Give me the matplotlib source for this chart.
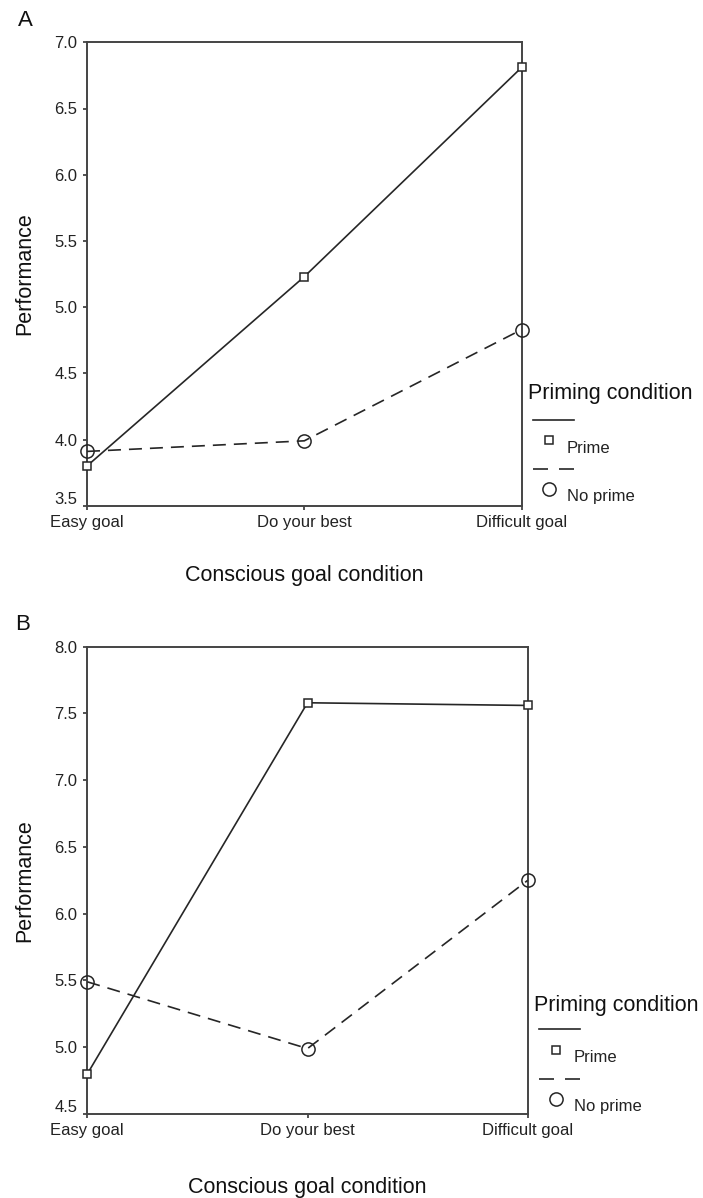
import matplotlib
matplotlib.use("Agg")
import matplotlib.pyplot as plt
import matplotlib.transforms as mtrans
from matplotlib.lines import Line2D

plt.rcParams['font.family'] = ['Liberation Sans', 'DejaVu Sans']

#Data##############################################################
goals = ["Easy goal", "Do your best", "Difficult goal"]
prime_A = [3.80, 5.23, 6.81]
noprime_A = [3.91, 3.99, 4.83]
prime_B = [4.80, 7.58, 7.56]
noprime_B = [5.49, 4.99, 6.25]
yticks_A = [3.5, 4.0, 4.5, 5.0, 5.5, 6.0, 6.5, 7.0]
yticks_B = [4.5, 5.0, 5.5, 6.0, 6.5, 7.0, 7.5, 8.0]

W, H = 703, 1198
fig = plt.figure(figsize=(W/100, H/100), dpi=100)
ink = '#262626'
lw = 1.2
dash = (7.8, 4.8)

def fx(x):
    return x/W

def fy(y):
    return 1 - y/H

def panel(box, prime, noprime, yticks, letter, letter_xy, xlabel_y, leg):
    l, t, r, b = box
    ax = fig.add_axes([fx(l), fy(b), fx(r) - fx(l), fy(t) - fy(b)])
    x = list(range(len(goals)))
    ax.plot(x, prime, color=ink, lw=lw, marker='s', markersize=5.8,
            markerfacecolor='white', markeredgecolor=ink, markeredgewidth=1.1,
            clip_on=False, zorder=3)
    ax.plot(x, noprime, color=ink, lw=lw, dashes=dash, marker='o', markersize=9.5,
            markerfacecolor='none', markeredgecolor=ink, markeredgewidth=1.1,
            clip_on=False, zorder=3)
    ax.set_xlim(0, len(goals) - 1)
    ax.set_ylim(yticks[0], yticks[-1])
    ax.set_xticks(x)
    ax.set_xticklabels(goals)
    ax.set_yticks(yticks)
    ax.set_yticklabels(["%.1f" % v for v in yticks])
    for s in ax.spines.values():
        s.set_linewidth(1.4)
        s.set_color('#444444')
    ax.tick_params(direction='out', length=3, width=1.3, color='#444444',
                   labelsize=12, labelcolor='#222222')
    ax.tick_params(axis='x', pad=3.5)
    ax.tick_params(axis='y', pad=4)
    # bottom y label sits a bit higher, clear of the x axis
    lab0 = ax.get_yticklabels()[0]
    lab0.set_transform(lab0.get_transform() +
                       mtrans.ScaledTranslation(0, 8/100, fig.dpi_scale_trans))

    ax.set_xlabel("Conscious goal condition", fontsize=15.5, color='#111111')
    ax.xaxis.set_label_coords(fx((l + r)/2), fy(xlabel_y), transform=fig.transFigure)
    ax.xaxis.label.set_verticalalignment('center')
    ax.set_ylabel("Performance", fontsize=15.5, color='#111111')
    ax.yaxis.set_label_coords(fx(25), fy((t + b)/2), transform=fig.transFigure)
    ax.yaxis.label.set_verticalalignment('center')

    fig.text(fx(letter_xy[0]), fy(letter_xy[1]), letter, fontsize=16,
             ha='center', va='center', color='#111111')

    # legend drawn by hand (line above, marker below, label offset)
    lx, ty, sy, mx, py, dy, cy, ny, txt_x = leg
    fig.text(fx(lx), fy(ty), "Priming condition", fontsize=15.5,
             ha='left', va='center', color='#111111')
    fig.add_artist(Line2D([fx(lx + 5), fx(lx + 46)], [fy(sy), fy(sy)],
                          transform=fig.transFigure, color=ink, lw=lw))
    fig.add_artist(Line2D([fx(mx)], [fy(py - 8)], transform=fig.transFigure,
                          marker='s', markersize=5.8, markerfacecolor='white',
                          markeredgecolor=ink, markeredgewidth=1.1, ls='none'))
    fig.text(fx(txt_x), fy(py), "Prime", fontsize=12, ha='left', va='center',
             color='#222222')
    fig.add_artist(Line2D([fx(lx + 5), fx(lx + 46)], [fy(dy), fy(dy)],
                          transform=fig.transFigure, color=ink, lw=lw,
                          dashes=(9, 6.6)))
    fig.add_artist(Line2D([fx(mx)], [fy(cy)], transform=fig.transFigure,
                          marker='o', markersize=9.5, markerfacecolor='none',
                          markeredgecolor=ink, markeredgewidth=1.1, ls='none'))
    fig.text(fx(txt_x), fy(ny), "No prime", fontsize=12, ha='left', va='center',
             color='#222222')
    return ax

axA = panel((87, 42.3, 521.6, 505.7), prime_A, noprime_A, yticks_A, "A", (25, 21), 575,
            (528, 394, 420, 549, 448, 469, 489, 496, 567))
axB = panel((87.3, 646.7, 527.7, 1114), prime_B, noprime_B, yticks_B, "B", (23, 624), 1187,
            (534, 1005, 1029, 556, 1058, 1079, 1099, 1106, 574))

fig.savefig("out.png", dpi=100, facecolor='white')
